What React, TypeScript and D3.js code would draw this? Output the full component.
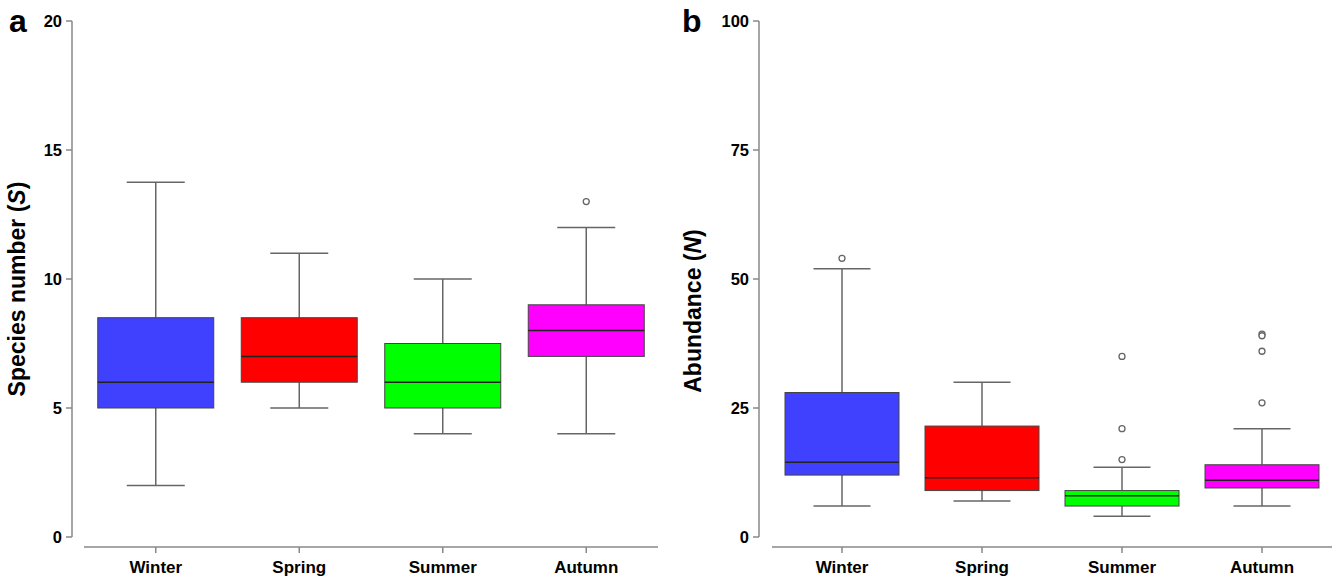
import React from "react";
import * as d3 from "d3";

// seasons + colours shared by both panels
const seasons = ["Winter", "Spring", "Summer", "Autumn"];
const colors = ["#4040FF", "#FF0000", "#00FF00", "#FF00FF"];

// panel a: species number (S) — [low whisker, Q1, median, Q3, high whisker]
const speciesStats = [
  [2, 5, 6, 8.5, 13.75],
  [5, 6, 7, 8.5, 11],
  [4, 5, 6, 7.5, 10],
  [4, 7, 8, 9, 12],
];
const speciesOutliers = [[], [], [], [13]];
const speciesTicks = [0, 5, 10, 15, 20];

// panel b: abundance (N)
const abundanceStats = [
  [6, 12, 14.5, 28, 52],
  [7, 9, 11.5, 21.5, 30],
  [4, 6, 8, 9, 13.5],
  [6, 9.5, 11, 14, 21],
];
const abundanceOutliers = [[54], [], [35, 21, 15], [39.3, 39, 36, 26]];
const abundanceTicks = [0, 25, 50, 75, 100];

if (typeof document !== "undefined") document.body.style.margin = "0";

const FONT = "'Liberation Sans', Arial, Helvetica, sans-serif";

type PanelProps = {
  letter: string;
  letterX: number;
  axisX: number;
  xRange: [number, number];
  yMax: number;
  ticks: number[];
  stats: number[][];
  outliers: number[][];
  titleX: number;
  titleY: number;
  titleMain: string;
  titleItalic: string;
  boxWidth: number;
};

function Panel(p: PanelProps) {
  const x = d3.scaleBand().domain(seasons).range(p.xRange).padding(0);
  const y = d3.scaleLinear().domain([0, p.yMax]).range([537, 21]);
  const axisY = 547;
  const bw = p.boxWidth;
  const cap = bw / 2;

  return (
    <g>
      <text x={p.letterX} y={32} fontFamily={FONT} fontWeight="bold" fontSize={32}>
        {p.letter}
      </text>
      {/* y axis */}
      <line x1={p.axisX} x2={p.axisX} y1={y(p.yMax)} y2={y(0)} stroke="#888" strokeWidth={1.5} />
      {p.ticks.map((t) => (
        <g key={t}>
          <line x1={p.axisX - 6} x2={p.axisX} y1={y(t)} y2={y(t)} stroke="#888" strokeWidth={1.5} />
          <text
            x={p.axisX - 10}
            y={y(t)}
            dy="0.36em"
            textAnchor="end"
            fontFamily={FONT}
            fontWeight="bold"
            fontSize={16.5}
          >
            {t}
          </text>
        </g>
      ))}
      <text
        transform={`translate(${p.titleX},${p.titleY}) rotate(-90)`}
        textAnchor="middle"
        fontFamily={FONT}
        fontWeight="bold"
        fontSize={23}
      >
        {p.titleMain}
        <tspan fontStyle="italic">{p.titleItalic}</tspan>)
      </text>
      {/* x axis */}
      <line x1={p.xRange[0]} x2={p.xRange[1]} y1={axisY} y2={axisY} stroke="#888" strokeWidth={1.5} />
      {seasons.map((s) => {
        const cx = x(s)! + x.bandwidth() / 2;
        return (
          <g key={s}>
            <line x1={cx} x2={cx} y1={axisY} y2={axisY + 6} stroke="#888" strokeWidth={1.5} />
            <text x={cx} y={573} textAnchor="middle" fontFamily={FONT} fontWeight="bold" fontSize={17}>
              {s}
            </text>
          </g>
        );
      })}
      {/* boxes */}
      {seasons.map((s, i) => {
        const cx = x(s)! + x.bandwidth() / 2;
        const [lo, q1, med, q3, hi] = p.stats[i];
        return (
          <g key={s}>
            <line x1={cx} x2={cx} y1={y(hi)} y2={y(q3)} stroke="#666" strokeWidth={1.5} />
            <line x1={cx} x2={cx} y1={y(q1)} y2={y(lo)} stroke="#666" strokeWidth={1.5} />
            <line x1={cx - cap / 2} x2={cx + cap / 2} y1={y(hi)} y2={y(hi)} stroke="#666" strokeWidth={1.5} />
            <line x1={cx - cap / 2} x2={cx + cap / 2} y1={y(lo)} y2={y(lo)} stroke="#666" strokeWidth={1.5} />
            <rect
              x={cx - bw / 2}
              y={y(q3)}
              width={bw}
              height={y(q1) - y(q3)}
              fill={colors[i]}
              stroke="#444"
              strokeWidth={1}
            />
            <line x1={cx - bw / 2} x2={cx + bw / 2} y1={y(med)} y2={y(med)} stroke="#222" strokeWidth={1.5} />
            {p.outliers[i].map((o, j) => (
              <circle key={j} cx={cx} cy={y(o)} r={3} fill="white" stroke="#666" strokeWidth={1.3} />
            ))}
          </g>
        );
      })}
    </g>
  );
}

export default function App() {
  return (
    <svg width={1338} height={581} style={{ display: "block", background: "white" }}>
      <Panel
        letter="a"
        letterX={9}
        axisX={72}
        xRange={[84, 658]}
        yMax={20}
        ticks={speciesTicks}
        stats={speciesStats}
        outliers={speciesOutliers}
        titleX={25}
        titleY={289}
        titleMain="Species number ("
        titleItalic="S"
        boxWidth={116}
      />
      <Panel
        letter="b"
        letterX={682}
        axisX={759}
        xRange={[772, 1332]}
        yMax={100}
        ticks={abundanceTicks}
        stats={abundanceStats}
        outliers={abundanceOutliers}
        titleX={701}
        titleY={311}
        titleMain="Abundance ("
        titleItalic="N"
        boxWidth={114}
      />
    </svg>
  );
}
